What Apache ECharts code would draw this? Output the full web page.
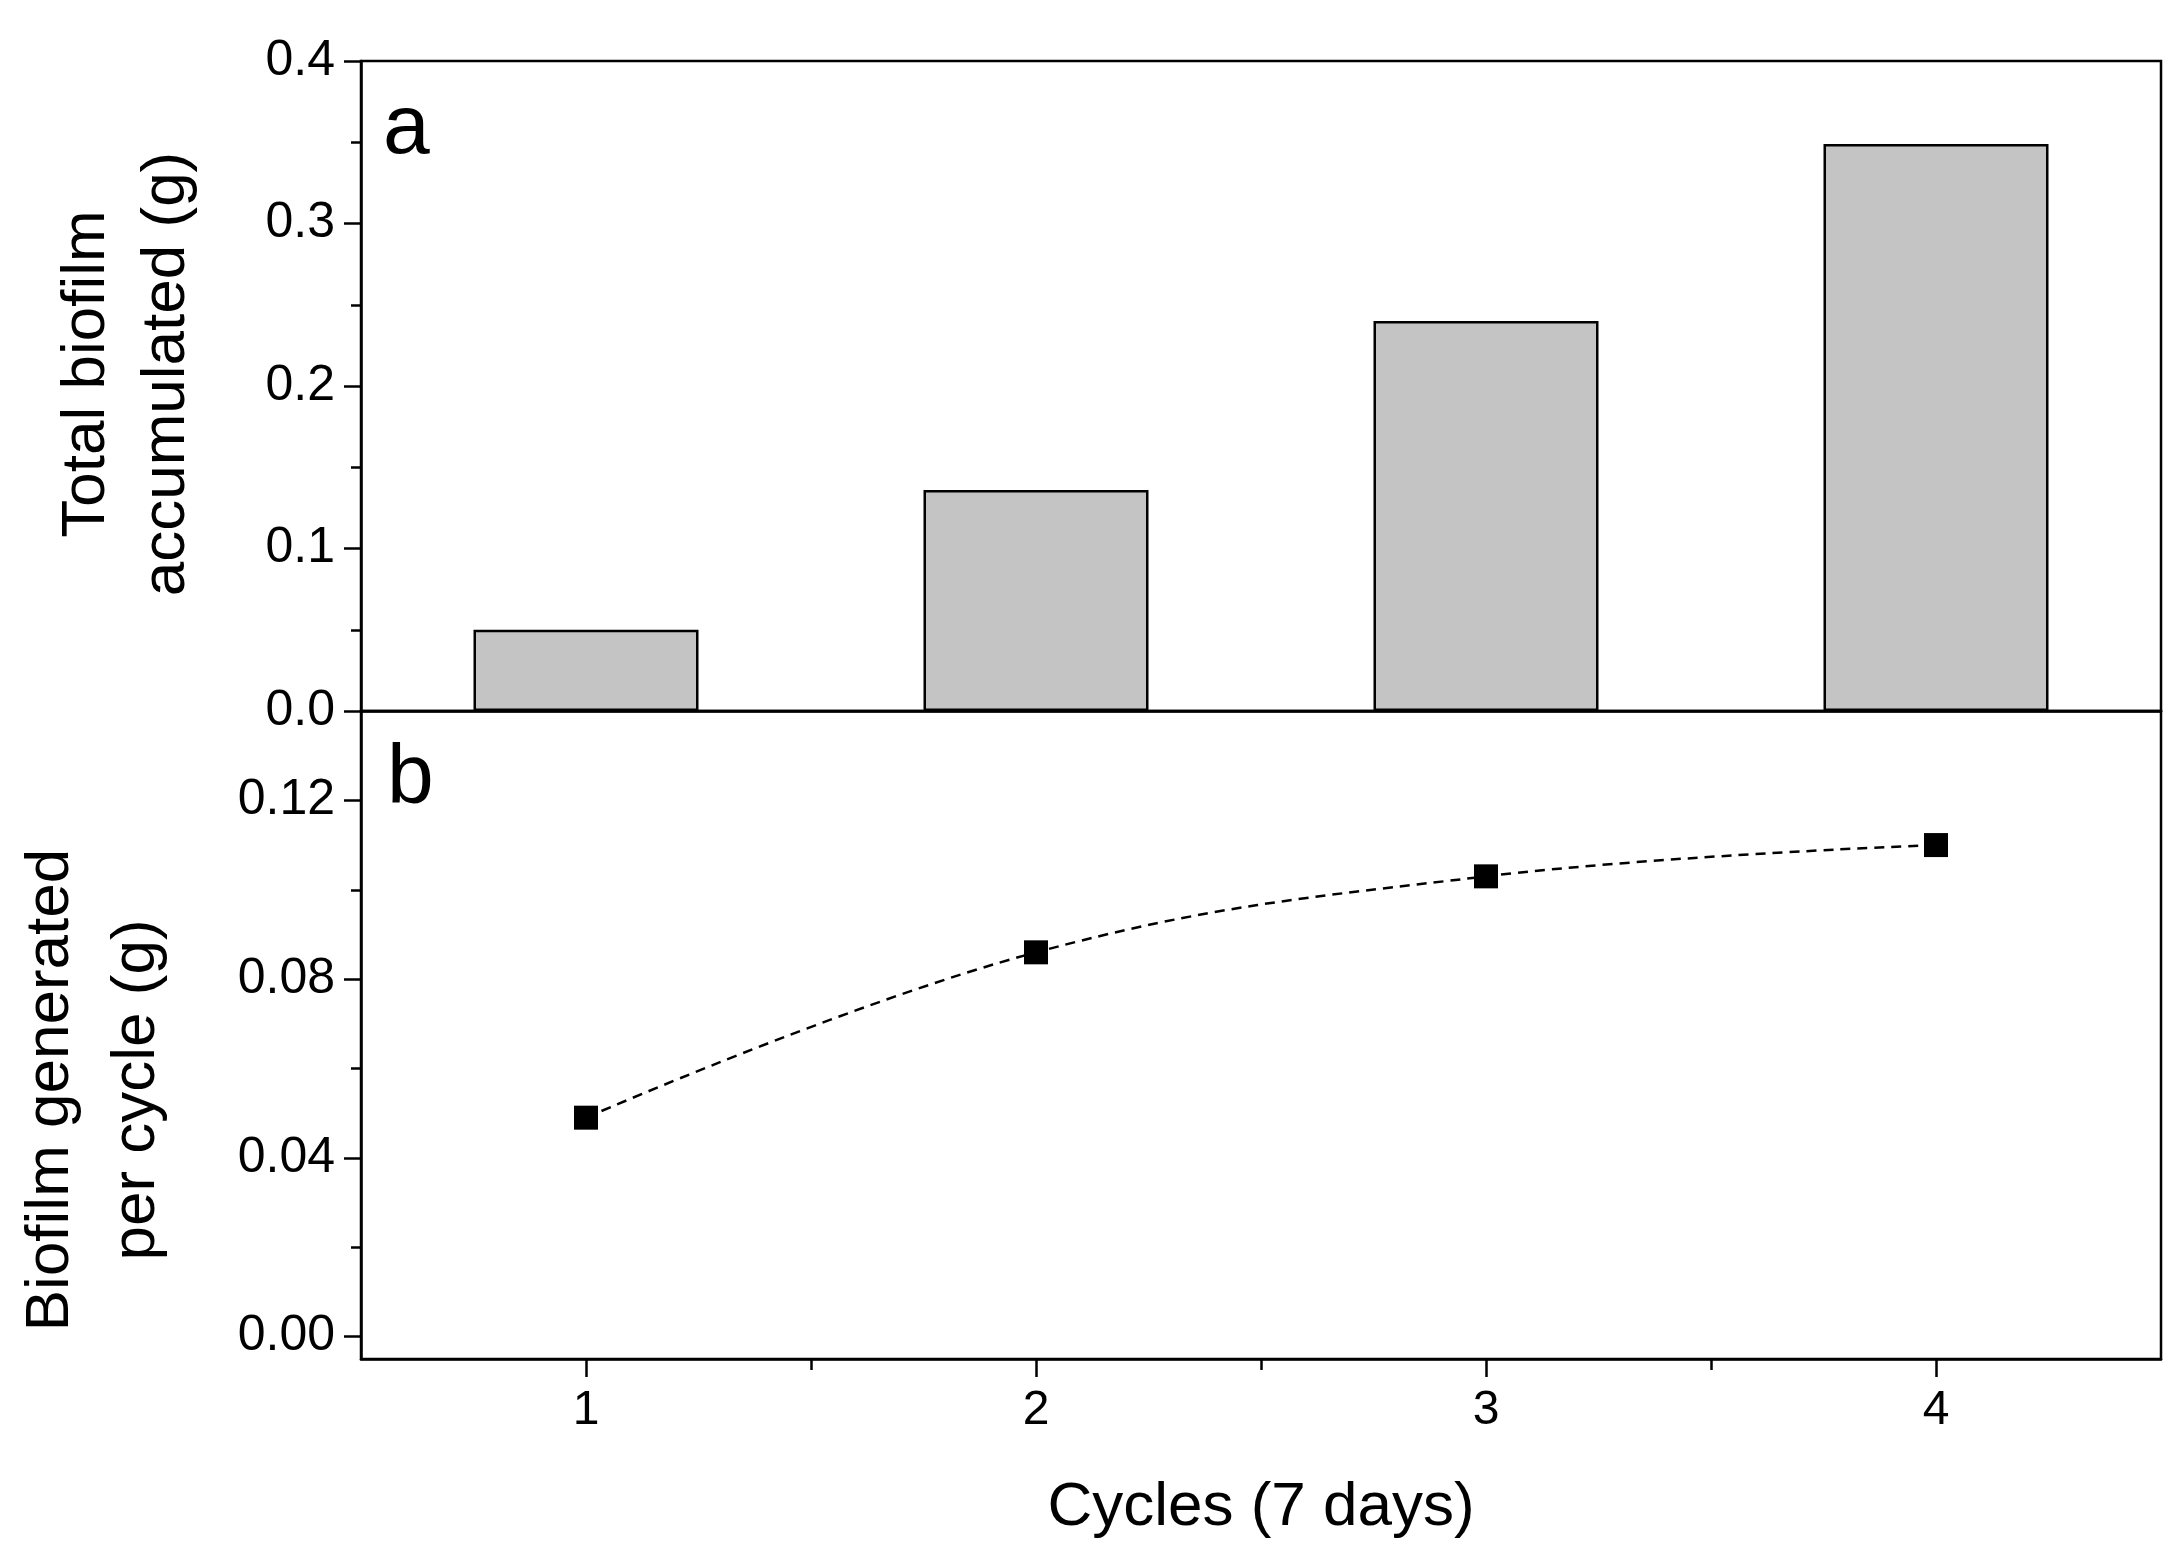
<!DOCTYPE html>
<html>
<head>
<meta charset="utf-8">
<script src="https://cdn.jsdelivr.net/npm/echarts@6/dist/echarts.min.js"></script>
<style>
html,body{margin:0;padding:0;background:#fff;}
#chart{width:2178px;height:1561px;}
</style>
</head>
<body>
<div id="chart"></div>
<script>
// ---- data ----
const cycles = [1, 2, 3, 4];
const totalBiofilm = [0.050, 0.136, 0.240, 0.349];
const perCycleBiofilm = [0.049, 0.086, 0.103, 0.110];
const topYTicks = [0.0, 0.1, 0.2, 0.3, 0.4];
const bottomYTicks = [0.00, 0.04, 0.08, 0.12];
const bottomYMinor = [0.02, 0.06, 0.10];
const xMinor = [1.5, 2.5, 3.5];
const xTitle = 'Cycles (7 days)';
const topYTitle = 'Total biofilm\naccumulated (g)';
const bottomYTitle = 'Biofilm generated\nper cycle (g)';

const FONT = 'Arial, "Liberation Sans", sans-serif';
const LW = 2.5;
const black = '#000';

const chart = echarts.init(document.getElementById('chart'), null, {renderer: 'canvas'});

const option = {
  backgroundColor: '#fff',
  animation: false,
  textStyle: {fontFamily: FONT, color: black},
  grid: [
    {left: 361, right: 17, top: 61, height: 650, show: true, borderColor: black, borderWidth: LW,
     backgroundColor: 'transparent', containLabel: false, outerBoundsMode: 'none'},
    {left: 361, right: 17, top: 711, height: 648, show: true, borderColor: black, borderWidth: LW,
     backgroundColor: 'transparent', containLabel: false, outerBoundsMode: 'none'}
  ],
  xAxis: [
    {gridIndex: 0, type: 'value', min: 0.5, max: 4.5, position: 'bottom',
     axisLine: {show: true, lineStyle: {color: black, width: LW}},
     axisTick: {show: false}, axisLabel: {show: false}, splitLine: {show: false}},
    {gridIndex: 1, type: 'value', min: 0.5, max: 4.5, position: 'bottom',
     name: xTitle, nameLocation: 'middle', nameGap: 118,
     nameTextStyle: {fontSize: 62, fontFamily: FONT, color: black},
     axisLine: {show: true, onZero: false, lineStyle: {color: black, width: LW}},
     axisTick: {show: true, inside: false, length: 18, customValues: cycles, lineStyle: {color: black, width: LW}},
     axisLabel: {show: true, customValues: cycles, margin: 28, fontSize: 48, fontFamily: FONT, color: black},
     splitLine: {show: false}},
    {gridIndex: 1, type: 'value', min: 0.5, max: 4.5, position: 'bottom', offset: 0,
     axisLine: {show: false, onZero: false},
     axisTick: {show: true, inside: false, length: 11, customValues: xMinor, lineStyle: {color: black, width: LW}},
     axisLabel: {show: false}, splitLine: {show: false}}
  ],
  yAxis: [
    {gridIndex: 0, type: 'value', min: 0, max: 0.4, interval: 0.1, position: 'left',
     name: topYTitle, nameLocation: 'middle', nameRotate: 90, nameGap: 154,
     nameTextStyle: {fontSize: 62, lineHeight: 80, fontFamily: FONT, color: black, align: 'center', padding: [0, 0, 0, 24]},
     axisLine: {show: true, onZero: false, lineStyle: {color: black, width: LW}},
     axisTick: {show: true, inside: false, length: 17, lineStyle: {color: black, width: LW}},
     minorTick: {show: true, splitNumber: 2, length: 10, lineStyle: {color: black, width: LW}},
     axisLabel: {show: true, margin: 26, fontSize: 50, fontFamily: FONT, color: black,
                 formatter: v => v.toFixed(1)},
     splitLine: {show: false}, minorSplitLine: {show: false}},
    {gridIndex: 1, type: 'value', min: -0.005, max: 0.14, position: 'left',
     name: bottomYTitle, nameLocation: 'middle', nameRotate: 90, nameGap: 181,
     nameTextStyle: {fontSize: 62, lineHeight: 86, fontFamily: FONT, color: black, align: 'center', padding: [0, 110, 0, 0]},
     axisLine: {show: true, onZero: false, lineStyle: {color: black, width: LW}},
     axisTick: {show: true, inside: false, length: 17, customValues: bottomYTicks, lineStyle: {color: black, width: LW}},
     axisLabel: {show: true, customValues: bottomYTicks, margin: 26, fontSize: 50, fontFamily: FONT, color: black,
                 formatter: v => Number(v).toFixed(2)},
     splitLine: {show: false}},
    {gridIndex: 1, type: 'value', min: -0.005, max: 0.14, position: 'left', offset: 0,
     axisLine: {show: false, onZero: false},
     axisTick: {show: true, inside: false, length: 10, customValues: bottomYMinor, lineStyle: {color: black, width: LW}},
     axisLabel: {show: false}, splitLine: {show: false}}
  ],
  series: [
    {type: 'bar', xAxisIndex: 0, yAxisIndex: 0, barWidth: 225,
     data: cycles.map((c, i) => [c, totalBiofilm[i]]),
     itemStyle: {color: '#c4c4c4', borderColor: black, borderWidth: 2.5}},
    {type: 'line', xAxisIndex: 1, yAxisIndex: 1, smooth: 0.4,
     data: cycles.map((c, i) => [c, perCycleBiofilm[i]]),
     symbol: 'rect', symbolSize: 24,
     itemStyle: {color: black},
     lineStyle: {color: black, width: 2.5, type: [10, 7]}}
  ],
  graphic: [
    {type: 'text', left: 383, top: 88, style: {text: 'a', font: '84px ' + FONT, fill: black}},
    {type: 'text', left: 387, top: 738, style: {text: 'b', font: '84px ' + FONT, fill: black}}
  ]
};
chart.setOption(option);
</script>
</body>
</html>
